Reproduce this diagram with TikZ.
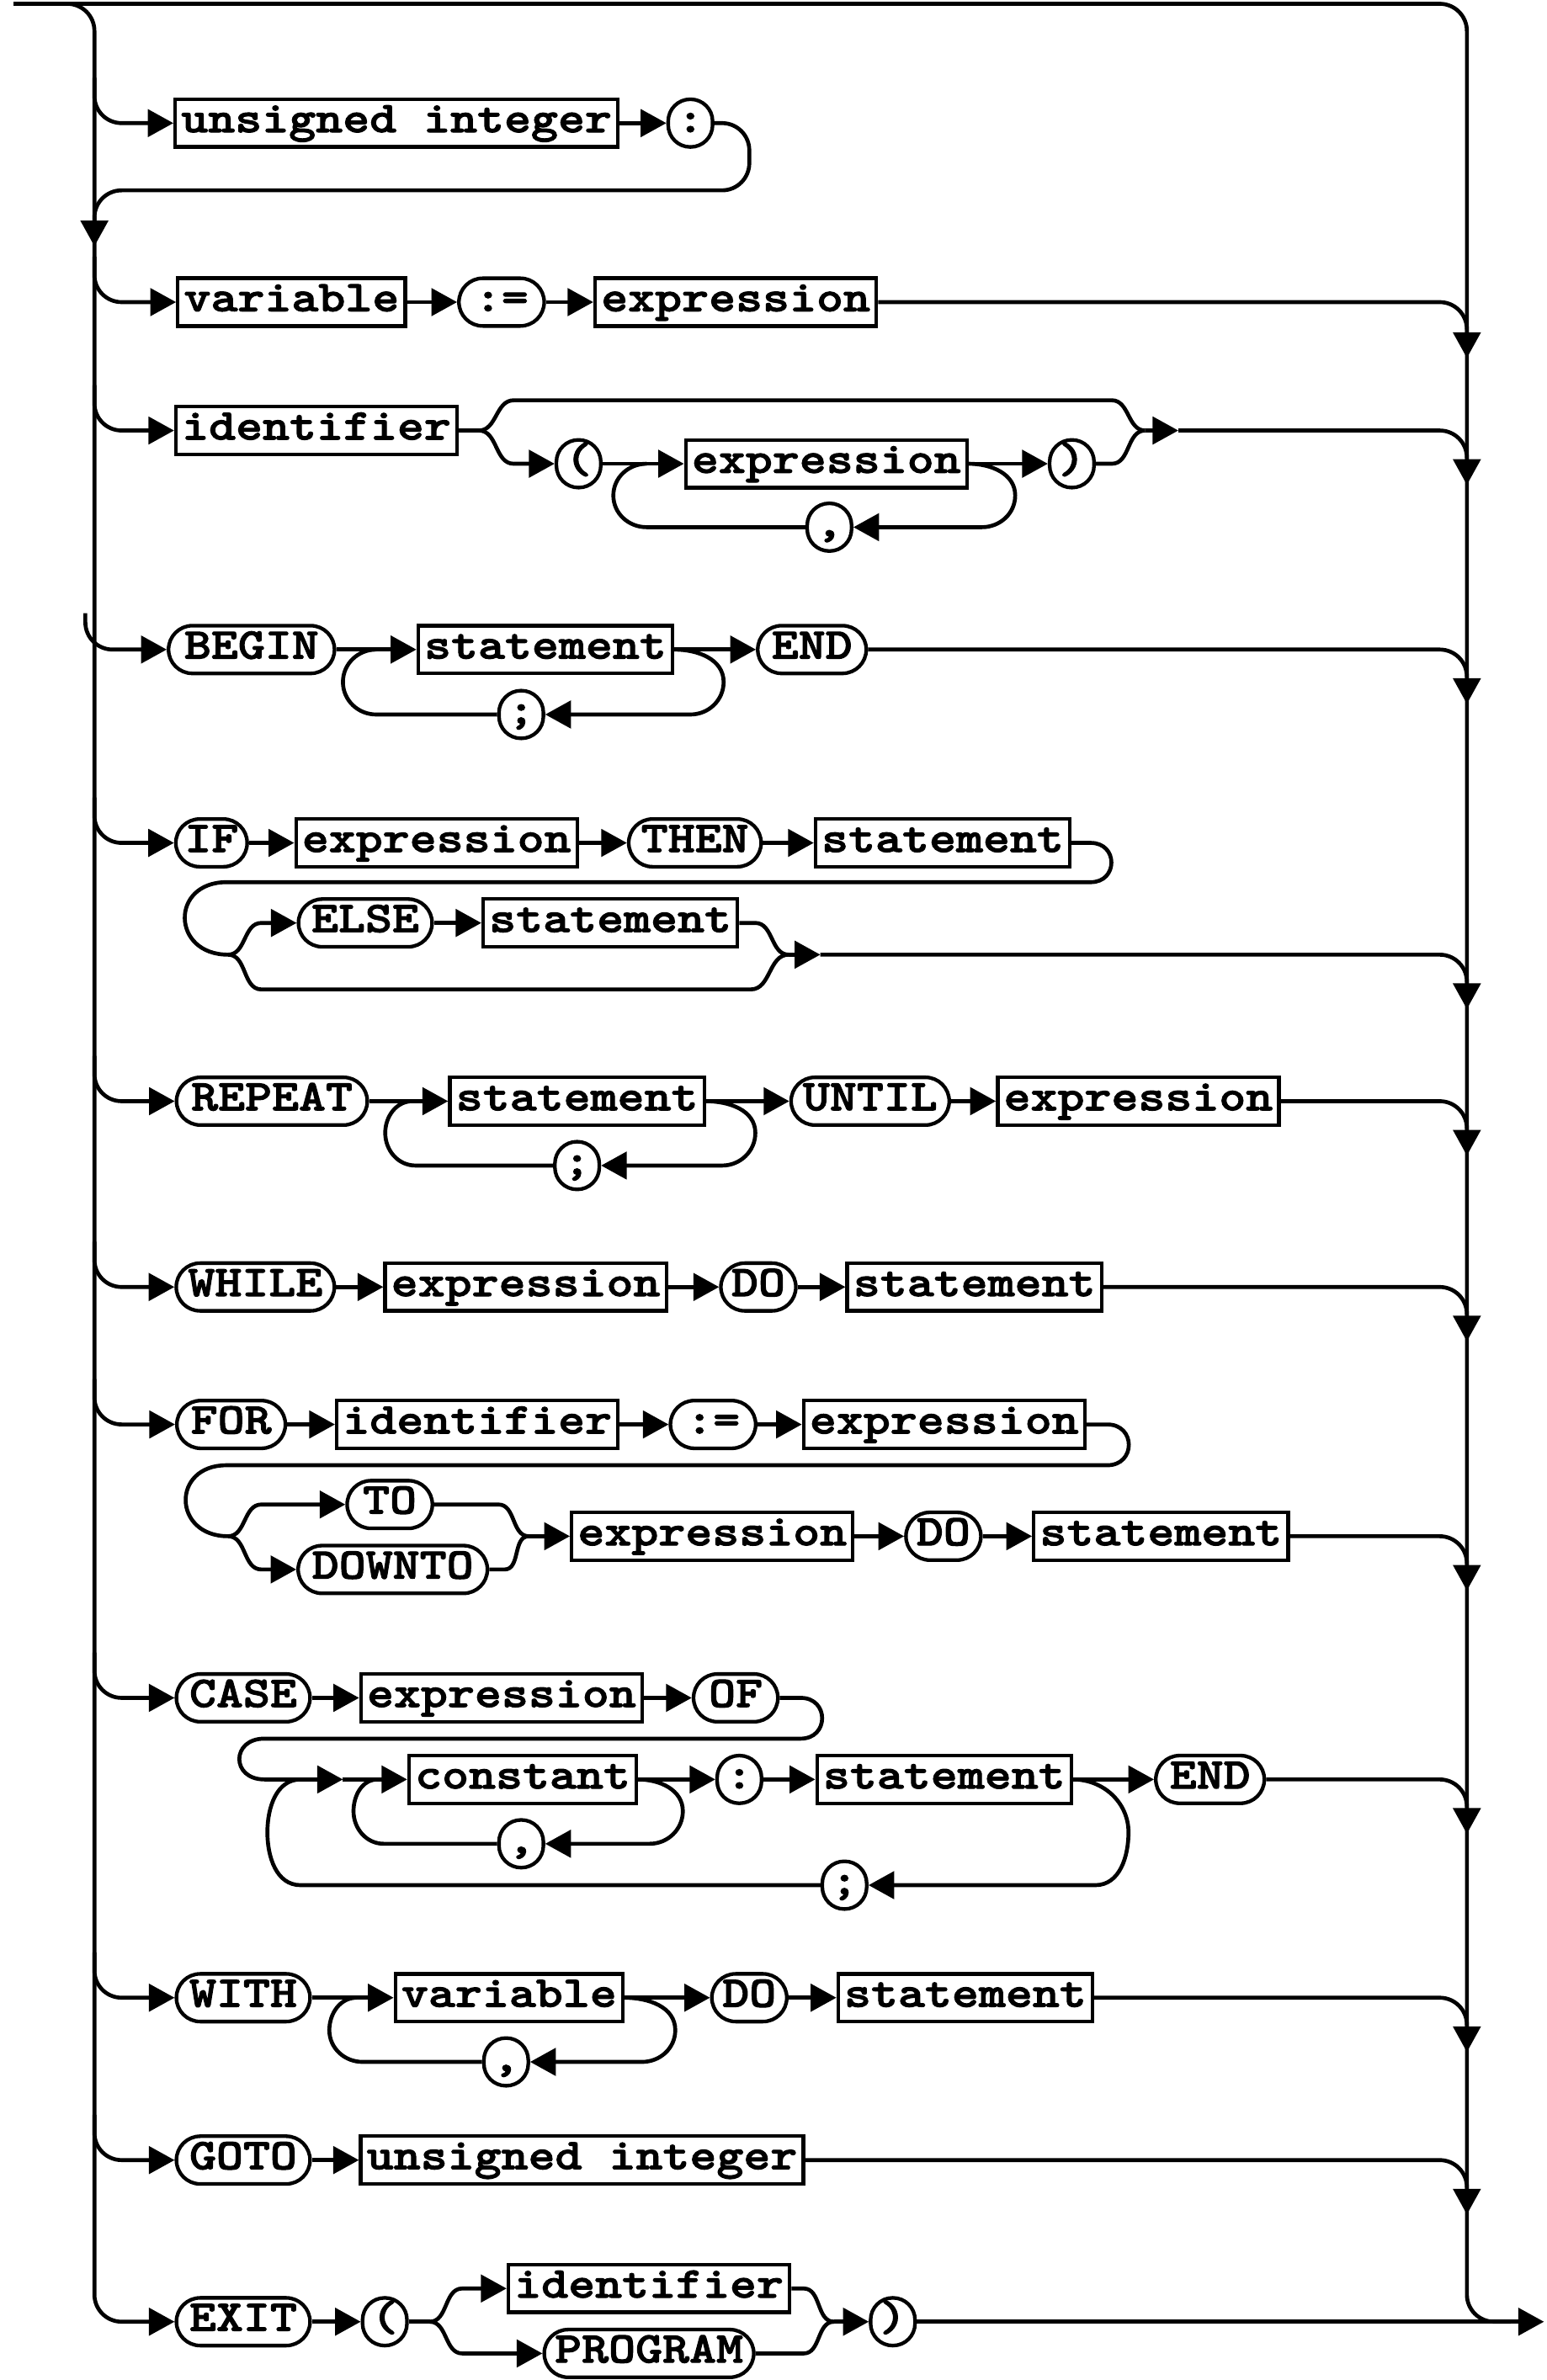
\documentclass[tikz,border=0pt]{standalone}
\usepackage{fontspec}
\newfontfamily\railfont{lmmonolt10-bold.otf}[FakeStretch=1.17,FakeBold=2]
\usetikzlibrary{arrows.meta}
\tikzset{
	rail/.style={line width=1.3pt},
	turn/.style={rounded corners=9pt},
	go/.style={rail, -{Triangle[length=8.5pt,width=9pt]}},
	nterm/.style={draw, line width=1.2pt,
		font=\railfont\fontsize{14.5pt}{16pt}\selectfont,
		inner xsep=2pt, inner ysep=0pt, minimum height=15.8pt,
		text height=9pt, text depth=3pt},
	kw/.style={nterm, rounded corners=7.9pt, inner xsep=4.6pt},
	sym/.style={nterm, rounded corners=7.3pt, inner xsep=0pt, minimum width=14.7pt}
}
\begin{document}
\begin{tikzpicture}[x=0.5pt,y=0.5pt,yscale=-1]
\useasboundingbox (0,0) rectangle (1024,1575.6);

\coordinate (in) at (9,2.5);
\coordinate (out) at (1022,1537);
\draw[rail,turn] (in) -- (971,2.5) -- (971,1537) -- (1000,1537);

% label
\node[nterm] (ui) at (262.5,81.5) {unsigned integer};
\node[sym] (colA) at (457,81.5) {:};
\draw[go,turn] (62.5,51.5) |- (ui.west);
\draw[go] (ui) -- (colA);
\draw[go,turn] (colA.east) -- (496,81.5) -- (496,126) -- (62.5,126) -- (62.5,163);

% assignment
\node[nterm] (var) at (193,200) {variable};
\node[kw,inner xsep=5.2pt] (asg) at (332,200) {:=};
\node[nterm] (ex1) at (487,200) {expression};
\draw[go,turn] (62.5,170) |- (var.west);
\draw[go] (var) -- (asg);
\draw[go] (asg) -- (ex1);
\draw[go,turn] (ex1.east) -| (971,237);

% procedure call
\node[nterm] (id1) at (209.5,285) {identifier};
\node[sym] (lp) at (383,307) {(};
\node[nterm] (ex2) at (547,307) {expression};
\node[sym] (rp) at (709.5,307) {)};
\node[sym] (cm1) at (549,349) {,};
\coordinate (s3) at (317,285);
\coordinate (m3) at (758,285);
\coordinate (a3) at (780,285);
\draw[go,turn] (62.5,255) |- (id1.west);
\draw[rail] (id1.east) -- (s3) to[out=0,in=180] (340,265) -- (736,265) to[out=0,in=180] (m3);
\draw[go] (s3) to[out=0,in=180] (340,307) -- (lp.west);
\draw[go] (lp) -- (ex2);
\draw[go] (ex2) -- (rp);
\draw[go] (ex2.east) to[out=0,in=-90] (672,328) to[out=90,in=0] (650,349) -- (cm1.east);
\draw[rail] (cm1.west) -- (428,349) to[out=180,in=90] (406,328) to[out=-90,in=180] (428,307);
\draw[rail] (rp.east) -- (736,307) to[out=0,in=180] (m3);
\draw[go] (m3) -- (a3);
\draw[go,turn] (a3) -| (971,321);

% compound
\node[kw,inner xsep=5.2pt] (kbegin) at (166.5,430) {BEGIN};
\node[nterm] (st1) at (361,430) {statement};
\node[kw] (kend) at (537.5,430) {END};
\node[sym] (sc1) at (345,473) {;};
\draw[go,turn] (56.5,406) |- (kbegin.west);
\draw[go] (kbegin) -- (st1);
\draw[go] (st1) -- (kend);
\draw[go] (st1.east) to[out=0,in=-90] (479,451.5) to[out=90,in=0] (457,473) -- (sc1.east);
\draw[rail] (sc1.west) -- (249,473) to[out=180,in=90] (227,451.5) to[out=-90,in=180] (249,430);
\draw[go,turn] (kend.east) -| (971,466);

% if
\node[kw,inner xsep=2.9pt] (kif) at (140,558) {IF};
\node[nterm] (ex3) at (289,558) {expression};
\node[kw,inner xsep=4.1pt] (kthen) at (460,558) {THEN};
\node[nterm] (st2) at (624,558) {statement};
\node[kw,inner xsep=4.3pt] (kelse) at (241.8,611) {ELSE};
\node[nterm] (st3) at (404,611) {statement};
\coordinate (j5) at (151,632);
\coordinate (m5) at (522,632);
\coordinate (a5) at (543,632);
\draw[go,turn] (62.5,528) |- (kif.west);
\draw[go] (kif) -- (ex3);
\draw[go] (ex3) -- (kthen);
\draw[go] (kthen) -- (st2);
\draw[rail] (st2.east) -- (722,558) to[out=0,in=0,looseness=1.8] (722,584) -- (150,584) to[out=180,in=180,looseness=2] (j5);
\draw[go] (j5) to[out=0,in=180] (173,611) -- (kelse.west);
\draw[go] (kelse) -- (st3);
\draw[rail] (st3.east) -- (500,611) to[out=0,in=180] (m5);
\draw[rail] (j5) to[out=0,in=180] (173,655) -- (497,655) to[out=0,in=180] (m5);
\draw[go] (m5) -- (a5);
\draw[go,turn] (a5) -| (971,668);

% repeat
\node[kw,inner xsep=4.85pt] (krep) at (180,729) {REPEAT};
\node[nterm] (st4) at (382,729) {statement};
\node[sym] (sc2) at (382,771.6) {;};
\node[kw,inner xsep=3.9pt] (kuntil) at (576,729) {UNTIL};
\node[nterm] (ex4) at (753.5,729) {expression};
\draw[go,turn] (62.5,699) |- (krep.west);
\draw[go] (krep) -- (st4);
\draw[go] (st4) -- (kuntil);
\draw[go] (kuntil) -- (ex4);
\draw[go] (st4.east) to[out=0,in=-90] (500,750) to[out=90,in=0] (478,771.6) -- (sc2.east);
\draw[rail] (sc2.west) -- (275,771.6) to[out=180,in=90] (255,750) to[out=-90,in=180] (273,729);
\draw[go,turn] (ex4.east) -| (971,765);

% while
\node[kw,inner xsep=3.9pt] (kwhile) at (169,852) {WHILE};
\node[nterm] (ex5) at (348,852) {expression};
\node[kw,inner xsep=3.5pt] (kdo1) at (502,852) {DO};
\node[nterm] (st5) at (645,852) {statement};
\draw[go,turn] (62.5,822) |- (kwhile.west);
\draw[go] (kwhile) -- (ex5);
\draw[go] (ex5) -- (kdo1);
\draw[go] (kdo1) -- (st5);
\draw[go,turn] (st5.east) -| (971,888);

% for
\node[kw] (kfor) at (153,943) {FOR};
\node[nterm] (id2) at (316,943) {identifier};
\node[kw,inner xsep=5.2pt] (asg2) at (472,943) {:=};
\node[nterm] (ex6) at (625,943) {expression};
\node[kw,inner xsep=5.2pt] (kto) at (258,996) {TO};
\node[kw] (kdownto) at (260,1039) {DOWNTO};
\node[nterm] (ex7) at (471.5,1017) {expression};
\node[kw,inner xsep=3.5pt] (kdo2) at (624.5,1017) {DO};
\node[nterm] (st6) at (768.5,1017) {statement};
\coordinate (j8) at (151,1017);
\coordinate (m8) at (350,1017);
\draw[go,turn] (62.5,913) |- (kfor.west);
\draw[go] (kfor) -- (id2);
\draw[go] (id2) -- (asg2);
\draw[go] (asg2) -- (ex6);
\draw[rail] (ex6.east) -- (733,943) to[out=0,in=0,looseness=1.8] (733,970) -- (150,970) to[out=180,in=180,looseness=2] (j8);
\draw[go] (j8) to[out=0,in=180] (173,996) -- (kto.west);
\draw[go] (j8) to[out=0,in=180] (173,1039) -- (kdownto.west);
\draw[rail] (kto.east) -- (330,996) to[out=0,in=180] (m8);
\draw[rail] (kdownto.east) -- (334,1039) to[out=0,in=180] (m8);
\draw[go] (m8) -- (ex7.west);
\draw[go] (ex7) -- (kdo2);
\draw[go] (kdo2) -- (st6);
\draw[go,turn] (st6.east) -| (971,1053);

% case
\node[kw,inner xsep=4.3pt] (kcase) at (161,1124) {CASE};
\node[nterm] (ex8) at (332,1124) {expression};
\node[kw,inner xsep=5.05pt] (kof) at (487,1124) {OF};
\node[nterm] (const) at (346,1178) {constant};
\node[sym] (colB) at (489.4,1178) {:};
\node[nterm] (st7) at (625,1178) {statement};
\node[kw] (kend2) at (801,1178) {END};
\node[sym] (cm2) at (345,1220.6) {,};
\node[sym] (sc3) at (559,1248) {;};
\coordinate (w9) at (175,1178);
\coordinate (a9) at (227,1178);
\draw[go,turn] (62.5,1094) |- (kcase.west);
\draw[go] (kcase) -- (ex8);
\draw[go] (ex8) -- (kof);
\draw[rail] (kof.east) -- (530,1124) to[out=0,in=0,looseness=1.8] (530,1151) -- (175,1151) to[out=180,in=180,looseness=2.1] (w9);
\draw[go] (w9) -- (a9);
\draw[go] (a9) -- (const.west);
\draw[go] (const) -- (colB);
\draw[go] (colB) -- (st7);
\draw[go] (st7) -- (kend2);
\draw[go] (const.east) to[out=0,in=-90] (452,1199) to[out=90,in=0] (430,1220.6) -- (cm2.east);
\draw[rail] (cm2.west) -- (254,1220.6) to[out=180,in=90] (234,1199) to[out=-90,in=180] (250,1178);
\draw[go] (st7.east) to[out=0,in=-90] (747,1213) to[out=90,in=0] (725,1248) -- (sc3.east);
\draw[rail] (sc3.west) -- (199,1248) to[out=180,in=90] (177,1213) to[out=-90,in=180] (199,1178);
\draw[go,turn] (kend2.east) -| (971,1214);

% with
\node[kw,inner xsep=4.3pt] (kwith) at (161,1322.5) {WITH};
\node[nterm] (var2) at (337,1322.5) {variable};
\node[sym] (cm3) at (335,1365) {,};
\node[kw,inner xsep=3.5pt] (kdo3) at (496,1322.5) {DO};
\node[nterm] (st8) at (639,1322.5) {statement};
\draw[go,turn] (62.5,1292.5) |- (kwith.west);
\draw[go] (kwith) -- (var2);
\draw[go] (var2) -- (kdo3);
\draw[go] (kdo3) -- (st8);
\draw[go] (var2.east) to[out=0,in=-90] (447,1344) to[out=90,in=0] (425,1365) -- (cm3.east);
\draw[rail] (cm3.west) -- (240,1365) to[out=180,in=90] (218,1344) to[out=-90,in=180] (236,1322.5);
\draw[go,turn] (st8.east) -| (971,1358.5);

% goto
\node[kw,inner xsep=4.3pt] (kgoto) at (161,1430) {GOTO};
\node[nterm] (ui2) at (385.3,1430) {unsigned integer};
\draw[go,turn] (62.5,1400) |- (kgoto.west);
\draw[go] (kgoto) -- (ui2);
\draw[go,turn] (ui2.east) -| (971,1466);

% exit
\node[kw,inner xsep=4.3pt] (kexit) at (161,1537) {EXIT};
\node[sym] (lp2) at (254.7,1537) {(};
\node[nterm] (id3) at (429.6,1515) {identifier};
\node[kw,inner xsep=3.5pt] (kprog) at (429.6,1558) {PROGRAM};
\node[sym] (rp2) at (591,1537) {)};
\coordinate (s12) at (284.5,1537);
\coordinate (m12) at (552,1537);
\draw[go,turn] (in) -- (62.5,2.5) -- (62.5,1537) -- (kexit.west);
\draw[go] (kexit) -- (lp2);
\draw[rail] (lp2.east) -- (s12);
\draw[go] (s12) to[out=0,in=180] (306,1515) -- (id3.west);
\draw[go] (s12) to[out=0,in=180] (306,1558) -- (kprog.west);
\draw[rail] (id3.east) -- (532,1515) to[out=0,in=180] (m12);
\draw[rail] (kprog.east) -- (532,1558) to[out=0,in=180] (m12);
\draw[go] (m12) -- (rp2.west);
\draw[go] (rp2.east) -- (out);
\end{tikzpicture}
\end{document}
